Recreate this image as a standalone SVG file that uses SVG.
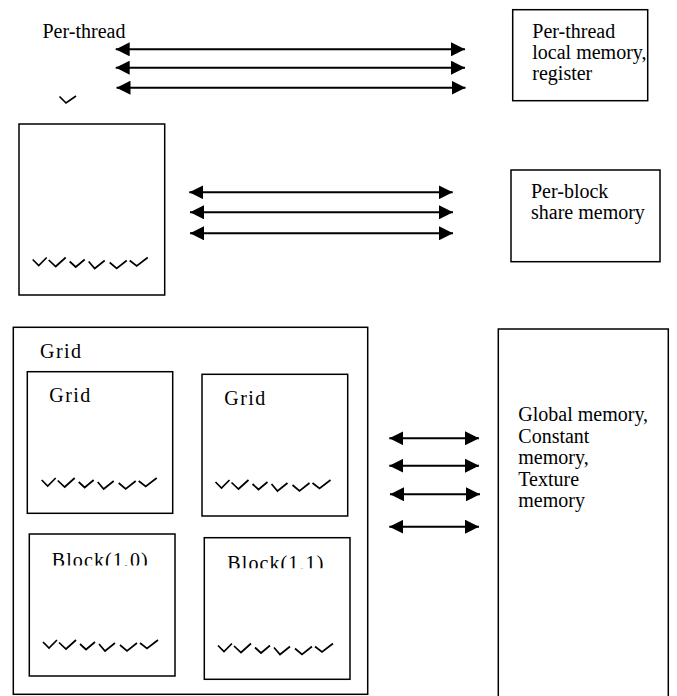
<svg xmlns="http://www.w3.org/2000/svg" width="677" height="696" viewBox="0 0 677 696">
<style>
.box{fill:none;stroke:#000;stroke-width:1.5}
.t{font-family:"Liberation Serif","Times New Roman",Times,serif;font-size:20px;fill:#000}
.arr{stroke:#000;stroke-width:2;fill:none;marker-start:url(#ah);marker-end:url(#ah)}
.tk{fill:none;stroke:#000;stroke-width:1.7;stroke-linejoin:miter}
</style>
<defs>
<marker id="ah" markerUnits="userSpaceOnUse" viewBox="0 0 14 14" refX="14" refY="7" markerWidth="14" markerHeight="14" orient="auto-start-reverse">
<path d="M0,0 L14,7 L0,14 z" fill="#000"/>
</marker>
<g id="ticks" class="tk">
<path d="M0,3 L6,9 L14,1"/>
<path d="M16,3.5 L23,10 L33,1"/>
<path d="M37,5 L43,10.5 L52,3"/>
<path d="M56,5 L62,12 L72,4"/>
<path d="M77,6 L84,12 L94,4"/>
<path d="M97,4 L104,9.5 L115,1"/>
</g>
<clipPath id="c1"><rect x="40" y="540" width="130" height="25.5"/></clipPath>
<clipPath id="c2"><rect x="215" y="540" width="130" height="28.3"/></clipPath>
</defs>

<g id="thread-label">
<text class="t" x="42.5" y="38">Per-thread</text>
<path class="tk" d="M59.5,96.5 L66,103 L76,96"/>
</g>

<g id="thread-memory">
<rect class="box" x="512.7" y="9.7" width="135" height="91"/>
<text class="t" x="532.3" y="37.5">Per-thread</text>
<text class="t" x="532.3" y="59">local memory,</text>
<text class="t" x="532.3" y="80.3">register</text>
</g>

<g id="block">
<rect class="box" x="19" y="124" width="145.7" height="171"/>
<use href="#ticks" x="32.7" y="256.5"/>
</g>

<g id="block-memory">
<rect class="box" x="511" y="170" width="149" height="91.7"/>
<text class="t" x="531" y="197.5">Per-block</text>
<text class="t" x="531" y="219">share memory</text>
</g>

<g id="grid">
<rect class="box" x="13.3" y="327.3" width="354.4" height="367"/>
<text class="t" x="40" y="358.3" textLength="41">Grid</text>
</g>

<g id="grid-block-0-0">
<rect class="box" x="27.3" y="371.7" width="145.4" height="141.6"/>
<text class="t" x="49.3" y="401.7" textLength="41">Grid</text>
<use href="#ticks" x="41.7" y="477"/>
</g>

<g id="grid-block-0-1">
<rect class="box" x="202" y="374.3" width="145.7" height="141.7"/>
<text class="t" x="224.3" y="405" textLength="41">Grid</text>
<use href="#ticks" x="215.5" y="479"/>
</g>

<g id="block-1-0">
<rect class="box" x="29.3" y="534" width="145.7" height="142"/>
<text class="t" x="51.7" y="566.5" textLength="96" clip-path="url(#c1)">Block(1,0)</text>
<use href="#ticks" x="43" y="639"/>
</g>

<g id="block-1-1">
<rect class="box" x="204.3" y="537.7" width="145.7" height="141.6"/>
<text class="t" x="227.3" y="569.5" textLength="96" clip-path="url(#c2)">Block(1,1)</text>
<use href="#ticks" x="218" y="642.5"/>
</g>

<g id="global-memory">
<rect class="box" x="498.3" y="329" width="170" height="380"/>
<text class="t" x="518.3" y="421">Global memory,</text>
<text class="t" x="518.3" y="442.5">Constant</text>
<text class="t" x="518.3" y="464">memory,</text>
<text class="t" x="518.3" y="485.5">Texture</text>
<text class="t" x="518.3" y="507">memory</text>
</g>

<g id="connectors">
<line class="arr" x1="115.7" y1="49.3" x2="465" y2="49.3"/>
<line class="arr" x1="115.7" y1="67.7" x2="465" y2="67.7"/>
<line class="arr" x1="116.5" y1="87.7" x2="465.5" y2="87.7"/>
<line class="arr" x1="189.3" y1="192.3" x2="452.7" y2="192.3"/>
<line class="arr" x1="190" y1="212.3" x2="453" y2="212.3"/>
<line class="arr" x1="190" y1="233.3" x2="453" y2="233.3"/>
<line class="arr" x1="389.3" y1="438.3" x2="479" y2="438.3"/>
<line class="arr" x1="389.3" y1="465.7" x2="479" y2="465.7"/>
<line class="arr" x1="390" y1="494.3" x2="480" y2="494.3"/>
<line class="arr" x1="389.3" y1="526.7" x2="479" y2="526.7"/>
</g>
</svg>
